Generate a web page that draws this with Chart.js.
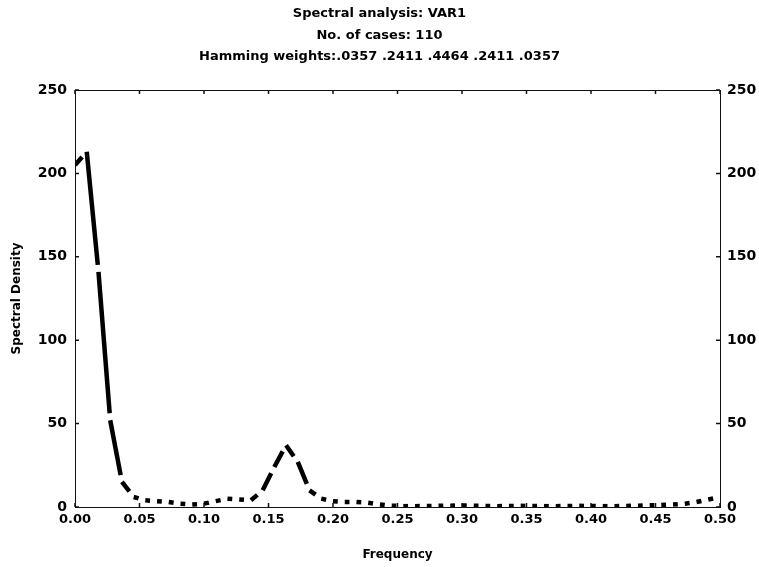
<!DOCTYPE html>
<html>
<head>
<meta charset="utf-8">
<script src="https://cdn.jsdelivr.net/npm/chart.js@4.4.1/dist/chart.umd.min.js"></script>
<style>
  html, body { margin: 0; padding: 0; background: #fff; }
  canvas { display: block; }
</style>
</head>
<body>
<canvas id="c" width="759" height="567"></canvas>
<script>
// Frequencies (cycles per observation) for 110 cases
const frequencies = [0.0000, 0.0091, 0.0182, 0.0273, 0.0364, 0.0455, 0.0545, 0.0636, 0.0727, 0.0818,
  0.0909, 0.1000, 0.1091, 0.1182, 0.1273, 0.1364, 0.1455, 0.1545, 0.1636, 0.1727,
  0.1818, 0.1909, 0.2000, 0.2091, 0.2182, 0.2273, 0.2364, 0.2455, 0.2545, 0.2636,
  0.2727, 0.2818, 0.2909, 0.3000, 0.3091, 0.3182, 0.3273, 0.3364, 0.3455, 0.3545,
  0.3636, 0.3727, 0.3818, 0.3909, 0.4000, 0.4091, 0.4182, 0.4273, 0.4364, 0.4455,
  0.4545, 0.4636, 0.4727, 0.4818, 0.4909, 0.5000];
// Spectral density values
const spectralDensity = [205, 213, 141, 52, 15, 6, 4, 3.5, 3, 2,
  1.5, 2, 3.5, 5, 4.5, 4, 10, 24, 37, 27,
  10, 5, 3.5, 3, 3, 2.5, 1.5, 0.8, 0.5, 0.5,
  0.6, 0.7, 0.8, 0.9, 0.8, 0.6, 0.5, 0.6, 0.7, 0.6,
  0.5, 0.5, 0.6, 0.7, 0.6, 0.5, 0.5, 0.6, 0.8, 1.0,
  1.2, 1.5, 2, 3, 4.5, 6];
const titleLines = ['Spectral analysis: VAR1', 'No. of cases: 110', 'Hamming weights:.0357 .2411 .4464 .2411 .0357'];
const xTitle = 'Frequency';
const yTitle = 'Spectral Density';

const FAMILY = "'DejaVu Sans', 'Liberation Sans', Arial, sans-serif";
const xTickFont = { family: FAMILY, size: 13, weight: 'bold' };
const yTickFont = { family: FAMILY, size: 14, weight: 'bold' };

const innerTicks = {
  id: 'innerTicks',
  afterDraw(chart) {
    const { ctx, chartArea: a, scales } = chart;
    const L = 4;
    ctx.save();
    ctx.strokeStyle = '#111';
    ctx.lineWidth = 1.5;
    ctx.beginPath();
    scales.y.ticks.forEach((t, i) => {
      const p = scales.y.getPixelForTick(i);
      ctx.moveTo(a.left, p); ctx.lineTo(a.left + L, p);
      ctx.moveTo(a.right, p); ctx.lineTo(a.right - L, p);
    });
    scales.x.ticks.forEach((t, i) => {
      const p = scales.x.getPixelForTick(i);
      ctx.moveTo(p, a.bottom); ctx.lineTo(p, a.bottom - L);
      ctx.moveTo(p, a.top); ctx.lineTo(p, a.top + L);
    });
    ctx.stroke();
    ctx.restore();
  }
};

const gridOff = { display: true, drawOnChartArea: false, drawTicks: false };
const borderOn = { display: true, color: '#111', width: 1 };

new Chart(document.getElementById('c'), {
  type: 'line',
  data: {
    datasets: [{
      data: frequencies.map((f, i) => ({ x: f, y: spectralDensity[i] })),
      borderColor: '#000',
      borderWidth: 4.5,
      pointRadius: 0,
      tension: 0,
      fill: false,
      borderCapStyle: 'butt',
      borderJoinStyle: 'miter',
      segment: {
        borderDash: (ctx) => {
          const L = Math.hypot(ctx.p1.x - ctx.p0.x, ctx.p1.y - ctx.p0.y);
          const d = Math.max(L - 7, 3);
          return [d, Math.max(L - d, 0.01)];
        }
      }
    }]
  },
  options: {
    responsive: false,
    devicePixelRatio: 1,
    animation: false,
    layout: { padding: 0 },
    plugins: {
      legend: { display: false },
      tooltip: { enabled: false },
      title: {
        display: true,
        text: titleLines,
        color: '#000',
        font: { family: FAMILY, size: 13, weight: 'bold', lineHeight: 1.65 },
        padding: { top: 3, bottom: 0 }
      }
    },
    scales: {
      x: {
        type: 'linear', position: 'bottom', min: 0, max: 0.5,
        ticks: { stepSize: 0.05, autoSkip: false, maxRotation: 0, color: '#000', font: xTickFont, padding: 5,
          callback: (v) => Number(v).toFixed(2) },
        grid: gridOff, border: borderOn,
        title: { display: true, text: xTitle, color: '#000', font: { family: FAMILY, size: 12, weight: 'bold' }, padding: { top: 0, bottom: 5 } },
        afterFit: (s) => { s.height = 60; }
      },
      xTop: {
        type: 'linear', position: 'top', min: 0, max: 0.5,
        ticks: { display: false, stepSize: 0.05 },
        grid: gridOff, border: borderOn,
        afterFit: (s) => { s.height = 22.65; }
      },
      y: {
        type: 'linear', position: 'left', min: 0, max: 250,
        ticks: { stepSize: 50, color: '#000', font: yTickFont, padding: 8 },
        grid: gridOff, border: borderOn,
        title: { display: true, text: yTitle, color: '#000', font: { family: FAMILY, size: 12, weight: 'bold' }, padding: { top: 10, bottom: 0 } },
        afterFit: (s) => { s.width = 75; }
      },
      yRight: {
        type: 'linear', position: 'right', min: 0, max: 250,
        ticks: { stepSize: 50, color: '#000', font: yTickFont, padding: 7 },
        grid: gridOff, border: borderOn,
        afterFit: (s) => { s.width = 39; }
      }
    }
  },
  plugins: [innerTicks]
});
</script>
</body>
</html>
